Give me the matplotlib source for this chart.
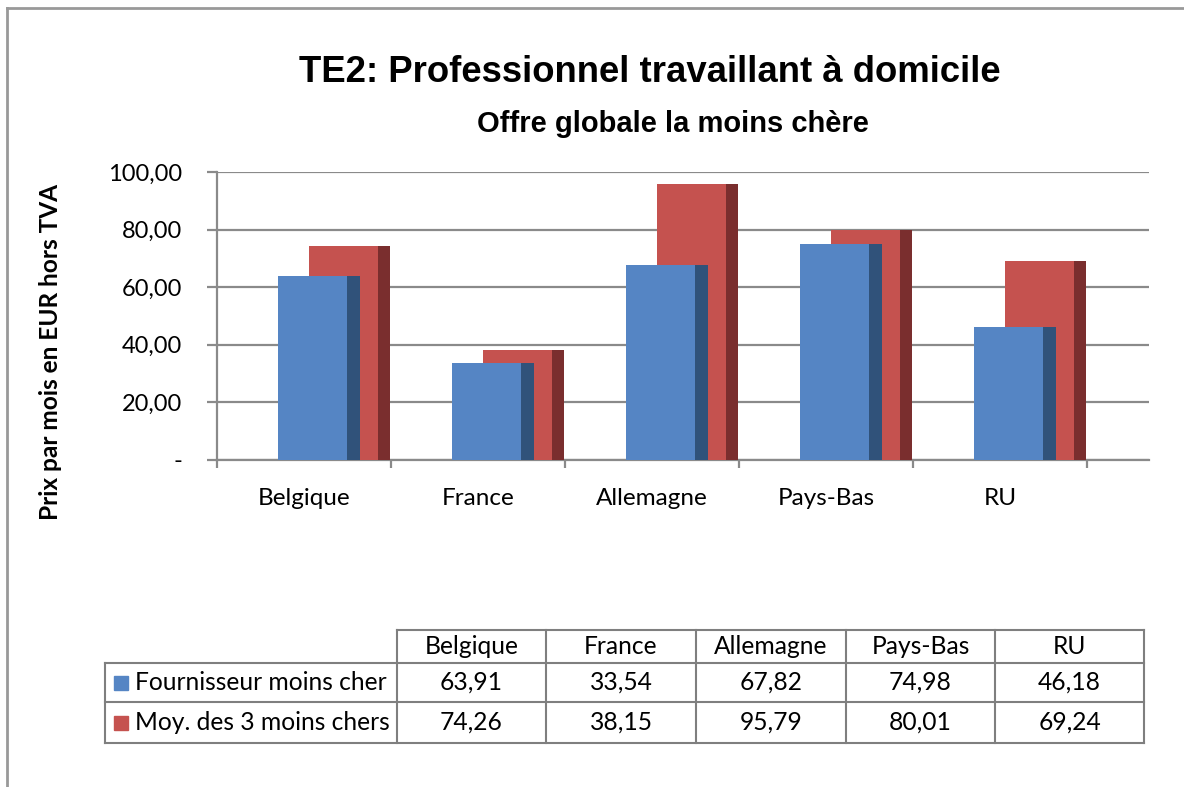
import matplotlib.pyplot as plt
from matplotlib.patches import Rectangle

# données
pays = ['Belgique', 'France', 'Allemagne', 'Pays-Bas', 'RU']
moins_cher = [63.91, 33.54, 67.82, 74.98, 46.18]
moy_3 = [74.26, 38.15, 95.79, 80.01, 69.24]
series = ['Fournisseur moins cher', 'Moy. des 3 moins chers']
yticks = [0, 20, 40, 60, 80, 100]

bleu, bleu_fonce = '#5585C4', '#30527A'
rouge, rouge_fonce = '#C5524F', '#7A2E2E'
gris = '#8A8A8A'
fnt = 'Lato'

W, H = 1184, 787
fig = plt.figure(figsize=(W / 100, H / 100), dpi=100)

ax = fig.add_axes([217 / W, 1 - 460 / H, 932 / W, 288 / H])
ax.set_xlim(0, 5.356)
ax.set_ylim(0, 100)

# barres pseudo-3D : face avant + côté sombre
for i in range(len(pays)):
    ax.bar(i + 0.529, moy_3[i], width=0.396, align='edge', color=rouge, zorder=3)
    ax.bar(i + 0.925, moy_3[i], width=0.069, align='edge', color=rouge_fonce, zorder=3)
    ax.bar(i + 0.35, moins_cher[i], width=0.397, align='edge', color=bleu, zorder=4)
    ax.bar(i + 0.747, moins_cher[i], width=0.075, align='edge', color=bleu_fonce, zorder=4)

ax.set_yticks(yticks)
ax.set_yticklabels(['-' if v == 0 else f'{v:.2f}'.replace('.', ',') for v in yticks],
                   fontsize=17, family=fnt)
ax.yaxis.grid(True, color=gris, lw=1.6, zorder=0)
ax.tick_params(axis='y', length=7, width=1.6, color=gris, pad=18)

ax.set_xticks(range(len(pays) + 1))
ax.set_xticklabels([])
ax.set_xticks([i + 0.5 for i in range(len(pays))], minor=True)
ax.set_xticklabels(pays, minor=True, fontsize=17.5, family=fnt)
ax.tick_params(axis='x', which='major', length=6, width=1.6, color=gris)
ax.tick_params(axis='x', which='minor', length=0, pad=20)

for s in ['top', 'right']:
    ax.spines[s].set_visible(False)
for s in ['left', 'bottom']:
    ax.spines[s].set_color(gris)
    ax.spines[s].set_linewidth(1.6)

ax.set_ylabel('Prix par mois en EUR hors TVA', fontsize=17.6, fontweight='bold', family=fnt)
ax.yaxis.set_label_coords(-0.166, 0.375)

fig.text(650 / W, 1 - 72 / H, 'TE2: Professionnel travaillant à domicile',
         ha='center', va='center', fontsize=26.3, fontweight='bold', family='Liberation Sans')
fig.text(673 / W, 1 - 124 / H, 'Offre globale la moins chère',
         ha='center', va='center', fontsize=21, fontweight='bold', family='Liberation Sans')

# calque en pixels pour le tableau et le cadre
ov = fig.add_axes([0, 0, 1, 1])
ov.set_xlim(0, W)
ov.set_ylim(H, 0)
ov.axis('off')

ov.plot([7, W], [8, 8], color='#999999', lw=2)
ov.plot([7, 7], [8, H], color='#999999', lw=2)

cols = [397, 546, 696, 846, 995, 1144]
rows = [630, 663, 702, 743]
left = 105
tc = '#7F7F7F'
ov.plot([cols[0], cols[-1]], [rows[0], rows[0]], color=tc, lw=1.5)
for y in rows[1:]:
    ov.plot([left, cols[-1]], [y, y], color=tc, lw=1.5)
ov.plot([left, left], [rows[1], rows[3]], color=tc, lw=1.5)
for x in cols:
    ov.plot([x, x], [rows[0], rows[3]], color=tc, lw=1.5)

for j, p in enumerate(pays):
    cx = (cols[j] + cols[j + 1]) / 2
    ov.text(cx, (rows[0] + rows[1]) / 2, p, ha='center', va='center', fontsize=17.7, family=fnt)
    for r, vals in enumerate([moins_cher, moy_3]):
        ov.text(cx, (rows[r + 1] + rows[r + 2]) / 2, f'{vals[j]:.2f}'.replace('.', ','),
                ha='center', va='center', fontsize=17.7, family=fnt)

for r, (nom, c) in enumerate(zip(series, [bleu, rouge])):
    cy = (rows[r + 1] + rows[r + 2]) / 2
    ov.add_patch(Rectangle((114, cy - 7), 14, 14, color=c))
    ov.text(135, cy, nom, ha='left', va='center', fontsize=17.7, family=fnt)

fig.savefig('out.png', dpi=100)
